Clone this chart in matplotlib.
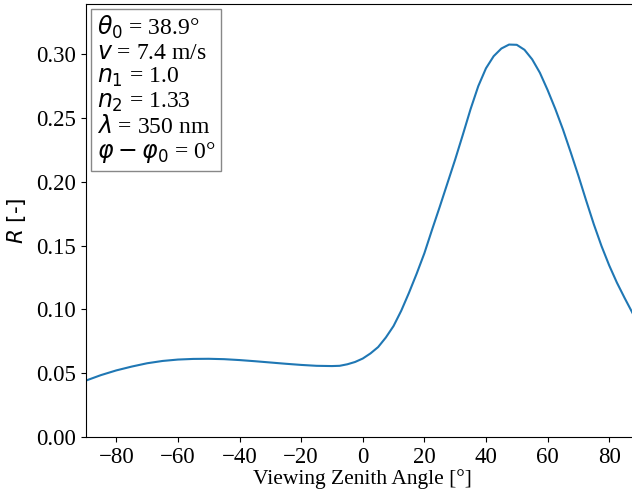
import matplotlib
matplotlib.use("Agg")
import matplotlib.pyplot as plt

# Viewing zenith angle [deg] and reflectance R [-]
vza = [-90, -85, -80, -75, -70, -65, -60, -55, -50, -45, -40, -35, -30, -25,
       -20, -15, -10, -7.5, -5, -2.5, 0, 2.5, 5, 7.5, 10, 12.5, 15, 17.5,
       20, 22.5, 25, 27.5, 30, 32.5, 35, 37.5, 40, 42.5, 45, 47.5, 50, 52.5,
       55, 57.5, 60, 62.5, 65, 67.5, 70, 72.5, 75, 77.5, 80, 82.5, 85, 87.5,
       90]
reflectance = [0.0441, 0.0485, 0.0522, 0.0552, 0.0578, 0.0596, 0.0607, 0.0612,
               0.0613, 0.0610, 0.0603, 0.0594, 0.0584, 0.0574, 0.0565, 0.0558,
               0.0556, 0.0558, 0.0570, 0.0588, 0.0615, 0.0655, 0.0705, 0.0780,
               0.0870, 0.0990, 0.1130, 0.1280, 0.1440, 0.1625, 0.1805, 0.1990,
               0.2175, 0.2370, 0.2570, 0.2750, 0.2890, 0.2985, 0.3045, 0.3076,
               0.3074, 0.3035, 0.2960, 0.2855, 0.2720, 0.2572, 0.2410, 0.2232,
               0.2048, 0.1855, 0.1668, 0.1497, 0.1345, 0.1210, 0.1090, 0.0975,
               0.0865]

x_ticks = [-80, -60, -40, -20, 0, 20, 40, 60, 80]
y_ticks = [0.00, 0.05, 0.10, 0.15, 0.20, 0.25, 0.30]

params = [
    r"$\theta_0$ = 38.9°",
    r"$v$ = 7.4 m/s",
    r"$n_1$ = 1.0",
    r"$n_2$ = 1.33",
    r"$\lambda$ = 350 nm",
    r"$\varphi - \varphi_0$ = 0°",
]

plt.rcParams["font.family"] = ["Liberation Serif", "DejaVu Serif"]
plt.rcParams["mathtext.fontset"] = "dejavusans"

W, H = 632, 490
fig = plt.figure(figsize=(W / 100, H / 100), dpi=100)
left, right, top, bottom = 85.5, 640, 4.5, 437
ax = fig.add_axes([left / W, 1 - bottom / H, (right - left) / W, (bottom - top) / H])

ax.plot(vza, reflectance, color="#1f77b4", lw=1.5)
ax.set_xlim(-90, 90)
ax.set_ylim(0, 0.339)
ax.set_xticks(x_ticks)
ax.set_yticks(y_ticks)
ax.set_xticklabels([f"{t}".replace("-", "\u2212") for t in x_ticks])
ax.set_yticklabels([f"{t:.2f}" for t in y_ticks])
ax.tick_params(labelsize=16.5)
ax.set_xlabel("Viewing Zenith Angle [°]", fontsize=15.5, labelpad=1)
ax.set_ylabel("$R$ [-]", fontsize=15.5, labelpad=6, family="DejaVu Sans")

ax.text(0.02, 0.978, "\n".join(params), transform=ax.transAxes,
        fontsize=17, va="top", ha="left", linespacing=1.1,
        bbox=dict(boxstyle="square,pad=0.25", facecolor="white",
                  edgecolor="#888888", lw=1.0))

fig.savefig("out.png", dpi=100)
